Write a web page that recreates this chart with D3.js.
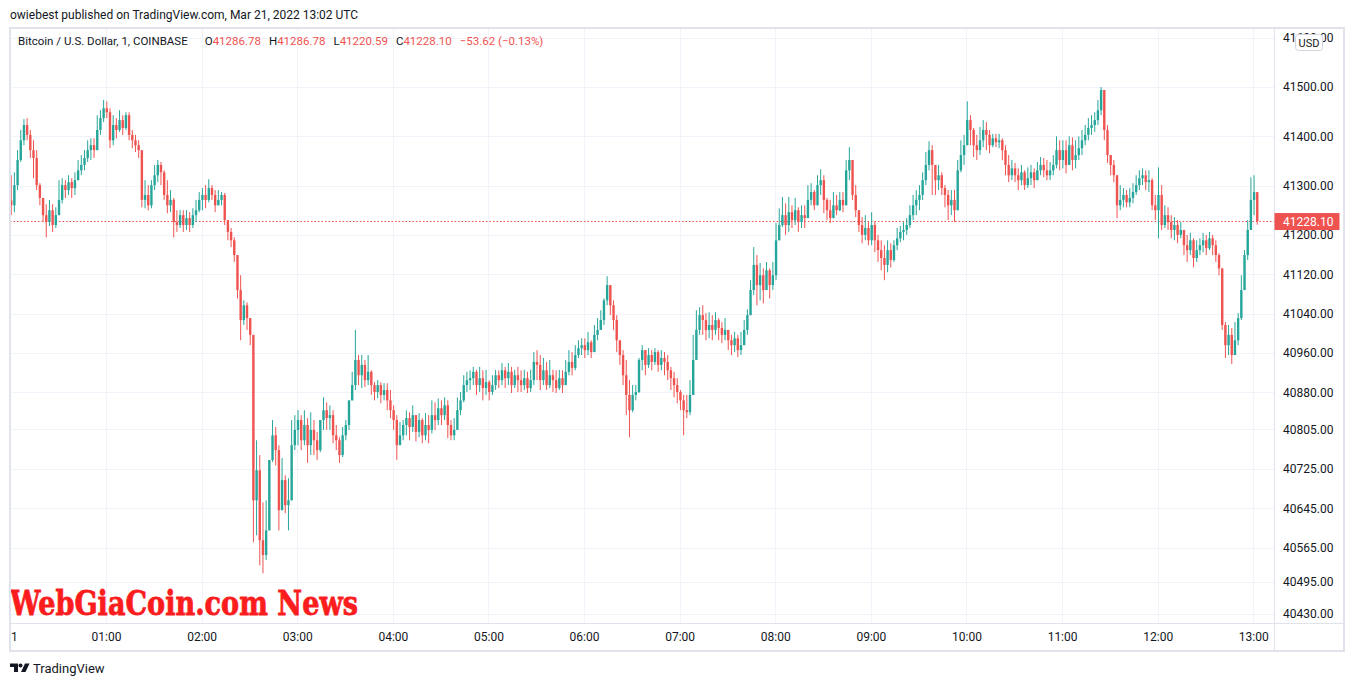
<!DOCTYPE html>
<html>
<head>
<meta charset="utf-8">
<script src="https://cdn.jsdelivr.net/npm/d3@7"></script>
<style>
    body { margin: 0; background: #fff; }
    svg { display: block; }
</style>
</head>
<body>
<div id="chart"></div>
<script>
'use strict';

// BTC/USD 1-minute chart, Coinbase, 21 Mar 2022 — candles at 2-minute steps
var startTime = Date.UTC(2022, 2, 21, 0, 0);
var candleMinutes = 2;
var firstOpen = 41270;

var closes = [
    41260, 41301, 41352, 41392, 41423,
    41403, 41372, 41356, 41301, 41275,
    41240, 41226, 41250, 41220, 41240,
    41271, 41301, 41291, 41307, 41295,
    41311, 41331, 41342, 41356, 41372,
    41382, 41372, 41413, 41437, 41457,
    41449, 41392, 41423, 41413, 41433,
    41417, 41443, 41403, 41392, 41382,
    41372, 41271, 41281, 41260, 41301,
    41321, 41342, 41327, 41281, 41260,
    41271, 41226, 41220, 41240, 41220,
    41234, 41220, 41240, 41250, 41271,
    41281, 41271, 41295, 41281, 41260,
    41271, 41281, 41230, 41206, 41189,
    41159, 41088, 41027, 41057, 41031,
    40997, 40661, 40722, 40580, 40550,
    40600, 40743, 40793, 40763, 40641,
    40702, 40651, 40661, 40773, 40804,
    40824, 40783, 40814, 40773, 40804,
    40783, 40763, 40824, 40844, 40828,
    40834, 40793, 40783, 40753, 40793,
    40814, 40864, 40895, 40946, 40915,
    40936, 40905, 40922, 40895, 40881,
    40895, 40875, 40885, 40864, 40844,
    40824, 40773, 40793, 40814, 40828,
    40810, 40834, 40800, 40824, 40793,
    40814, 40804, 40834, 40824, 40848,
    40834, 40854, 40814, 40793, 40804,
    40844, 40864, 40895, 40905, 40909,
    40922, 40895, 40909, 40889, 40901,
    40881, 40895, 40915, 40905, 40925,
    40909, 40922, 40895, 40915, 40905,
    40895, 40909, 40889, 40905, 40942,
    40936, 40905, 40925, 40895, 40915,
    40905, 40889, 40909, 40895, 40922,
    40942, 40930, 40956, 40970, 40976,
    40966, 40982, 40962, 40997, 41007,
    41027, 41067, 41098, 41057, 41027,
    40986, 40956, 40915, 40875, 40844,
    40875, 40881, 40946, 40966, 40936,
    40956, 40942, 40962, 40936, 40950,
    40942, 40925, 40909, 40895, 40881,
    40864, 40844, 40840, 40875, 40946,
    41007, 41037, 41027, 41007, 41017,
    41007, 41027, 41011, 40997, 41007,
    40986, 40976, 40990, 40966, 40976,
    41007, 41037, 41088, 41139, 41098,
    41118, 41088, 41128, 41098, 41118,
    41189, 41220, 41240, 41220, 41246,
    41230, 41250, 41226, 41240, 41234,
    41271, 41287, 41260, 41301, 41311,
    41271, 41250, 41234, 41260, 41250,
    41271, 41260, 41331, 41352, 41281,
    41250, 41220, 41200, 41214, 41189,
    41220, 41189, 41169, 41153, 41139,
    41169, 41149, 41179, 41193, 41206,
    41210, 41220, 41240, 41260, 41271,
    41281, 41311, 41342, 41372, 41342,
    41311, 41321, 41295, 41281, 41260,
    41271, 41250, 41331, 41362, 41382,
    41433, 41413, 41382, 41372, 41392,
    41413, 41403, 41382, 41396, 41388,
    41392, 41372, 41342, 41321, 41335,
    41321, 41311, 41327, 41301, 41315,
    41327, 41311, 41331, 41342, 41331,
    41321, 41331, 41342, 41372, 41352,
    41372, 41342, 41382, 41352, 41362,
    41376, 41392, 41403, 41417, 41423,
    41433, 41453, 41494, 41413, 41362,
    41342, 41321, 41260, 41271, 41281,
    41266, 41275, 41287, 41301, 41315,
    41321, 41307, 41311, 41260, 41250,
    41281, 41220, 41240, 41226, 41210,
    41220, 41200, 41210, 41179, 41169,
    41189, 41153, 41169, 41179, 41189,
    41173, 41193, 41179, 41159, 41132,
    41017, 40976, 40997, 40956, 40986,
    41031, 41088, 41159, 41210, 41271,
    41286.78, 41228.10
];

var highs = [
    41321, 41327, 41372, 41413, 41435,
    41437, 41413, 41392, 41372, 41305,
    41275, 41262, 41271, 41262, 41256,
    41311, 41315, 41311, 41321, 41315,
    41327, 41352, 41362, 41372, 41392,
    41396, 41396, 41443, 41453, 41474,
    41471, 41457, 41443, 41437, 41453,
    41443, 41449, 41449, 41413, 41403,
    41392, 41372, 41311, 41301, 41311,
    41342, 41352, 41348, 41331, 41311,
    41291, 41275, 41250, 41250, 41250,
    41250, 41246, 41254, 41271, 41287,
    41295, 41301, 41313, 41301, 41291,
    41291, 41287, 41285, 41230, 41214,
    41195, 41159, 41118, 41067, 41063,
    41031, 40990, 40783, 40753, 40657,
    40661, 40702, 40824, 40810, 40773,
    40747, 40712, 40706, 40824, 40834,
    40844, 40834, 40844, 40828, 40840,
    40824, 40800, 40824, 40870, 40860,
    40854, 40844, 40814, 40789, 40810,
    40824, 40864, 40922, 41007, 40956,
    40956, 40946, 40956, 40925, 40901,
    40905, 40901, 40899, 40899, 40885,
    40854, 40834, 40820, 40824, 40844,
    40840, 40854, 40834, 40838, 40828,
    40838, 40834, 40864, 40860, 40868,
    40864, 40870, 40864, 40824, 40828,
    40870, 40881, 40915, 40922, 40925,
    40932, 40926, 40932, 40925, 40926,
    40905, 40915, 40926, 40925, 40940,
    40932, 40940, 40932, 40926, 40932,
    40925, 40926, 40922, 40926, 40962,
    40966, 40956, 40950, 40942, 40946,
    40926, 40925, 40926, 40925, 40946,
    40966, 40962, 40976, 40986, 40990,
    40990, 41003, 40986, 41017, 41031,
    41047, 41071, 41116, 41098, 41067,
    41037, 40986, 40966, 40946, 40905,
    40895, 40895, 40950, 40976, 40966,
    40970, 40966, 40970, 40966, 40966,
    40962, 40956, 40932, 40922, 40909,
    40885, 40875, 40875, 40905, 40997,
    41047, 41053, 41057, 41041, 41043,
    41037, 41043, 41031, 41023, 41031,
    41007, 40997, 41003, 40997, 41003,
    41027, 41049, 41108, 41175, 41159,
    41143, 41132, 41145, 41132, 41145,
    41224, 41254, 41277, 41264, 41277,
    41260, 41275, 41256, 41260, 41260,
    41301, 41305, 41291, 41321, 41333,
    41321, 41275, 41271, 41287, 41281,
    41287, 41287, 41352, 41378, 41352,
    41301, 41250, 41236, 41240, 41226,
    41246, 41226, 41200, 41189, 41179,
    41189, 41183, 41189, 41214, 41218,
    41226, 41234, 41260, 41281, 41291,
    41301, 41327, 41368, 41390, 41382,
    41342, 41342, 41327, 41301, 41291,
    41291, 41291, 41352, 41392, 41403,
    41471, 41443, 41417, 41403, 41419,
    41433, 41429, 41413, 41405, 41405,
    41405, 41396, 41382, 41362, 41352,
    41346, 41335, 41342, 41331, 41337,
    41342, 41335, 41348, 41358, 41356,
    41352, 41348, 41362, 41400, 41392,
    41392, 41392, 41400, 41398, 41392,
    41400, 41413, 41423, 41437, 41443,
    41449, 41474, 41500, 41494, 41423,
    41362, 41352, 41321, 41301, 41295,
    41291, 41295, 41305, 41321, 41331,
    41335, 41331, 41331, 41315, 41281,
    41337, 41301, 41260, 41256, 41240,
    41236, 41230, 41226, 41210, 41200,
    41204, 41193, 41189, 41193, 41204,
    41200, 41206, 41200, 41189, 41163,
    41132, 41023, 41017, 41011, 41023,
    41041, 41118, 41169, 41230, 41317,
    41321, 41286.78
];

var lows = [
    41240, 41246, 41291, 41348, 41382,
    41392, 41356, 41315, 41291, 41260,
    41226, 41195, 41218, 41206, 41214,
    41240, 41264, 41275, 41281, 41275,
    41281, 41311, 41321, 41331, 41348,
    41352, 41356, 41372, 41403, 41429,
    41437, 41376, 41382, 41396, 41409,
    41403, 41413, 41392, 41376, 41368,
    41356, 41256, 41254, 41250, 41254,
    41291, 41307, 41301, 41271, 41244,
    41246, 41195, 41206, 41214, 41206,
    41210, 41206, 41214, 41226, 41246,
    41250, 41254, 41266, 41271, 41246,
    41260, 41260, 41220, 41189, 41175,
    41145, 41071, 40986, 41017, 41007,
    40976, 40576, 40590, 40529, 40513,
    40540, 40600, 40739, 40732, 40600,
    40641, 40635, 40600, 40661, 40763,
    40773, 40763, 40773, 40737, 40753,
    40753, 40743, 40759, 40804, 40804,
    40804, 40777, 40763, 40737, 40749,
    40783, 40804, 40875, 40885, 40895,
    40889, 40891, 40895, 40875, 40864,
    40868, 40858, 40864, 40844, 40828,
    40804, 40743, 40781, 40783, 40793,
    40783, 40800, 40781, 40789, 40777,
    40783, 40777, 40797, 40804, 40814,
    40814, 40824, 40787, 40783, 40783,
    40814, 40834, 40860, 40881, 40885,
    40895, 40875, 40881, 40864, 40875,
    40864, 40875, 40885, 40889, 40895,
    40889, 40895, 40879, 40889, 40881,
    40881, 40885, 40879, 40881, 40895,
    40905, 40885, 40895, 40885, 40889,
    40881, 40879, 40885, 40879, 40895,
    40915, 40915, 40925, 40950, 40956,
    40950, 40956, 40950, 40970, 40986,
    41007, 41017, 41057, 41037, 41007,
    40962, 40936, 40895, 40834, 40789,
    40840, 40864, 40879, 40925, 40915,
    40930, 40925, 40936, 40922, 40925,
    40915, 40905, 40885, 40870, 40858,
    40844, 40793, 40828, 40834, 40895,
    40986, 40997, 40997, 40986, 40990,
    40986, 40997, 40986, 40980, 40986,
    40966, 40956, 40962, 40952, 40956,
    40986, 40997, 41037, 41078, 41057,
    41067, 41061, 41088, 41071, 41088,
    41108, 41199, 41216, 41200, 41206,
    41214, 41220, 41206, 41214, 41214,
    41250, 41260, 41250, 41260, 41281,
    41244, 41230, 41224, 41234, 41240,
    41248, 41246, 41260, 41311, 41271,
    41236, 41206, 41183, 41189, 41179,
    41179, 41165, 41145, 41128, 41108,
    41124, 41134, 41145, 41169, 41185,
    41189, 41200, 41214, 41230, 41240,
    41250, 41271, 41301, 41331, 41281,
    41281, 41291, 41281, 41256, 41230,
    41240, 41226, 41250, 41327, 41342,
    41382, 41382, 41358, 41352, 41362,
    41378, 41372, 41366, 41378, 41378,
    41376, 41352, 41321, 41307, 41311,
    41307, 41291, 41301, 41291, 41295,
    41301, 41295, 41311, 41321, 41317,
    41311, 41311, 41321, 41335, 41331,
    41335, 41325, 41342, 41331, 41335,
    41352, 41362, 41382, 41392, 41403,
    41409, 41423, 41443, 41392, 41346,
    41321, 41307, 41234, 41250, 41256,
    41256, 41256, 41264, 41281, 41291,
    41301, 41291, 41287, 41250, 41230,
    41193, 41210, 41214, 41210, 41193,
    41189, 41183, 41193, 41159, 41145,
    41159, 41134, 41145, 41159, 41165,
    41159, 41169, 41159, 41145, 41118,
    41007, 40950, 40956, 40938, 40966,
    40976, 41027, 41088, 41149, 41210,
    41240, 41220.59
];

var priceTicks = [41600, 41500, 41400, 41300, 41200, 41120, 41040, 40960, 40880, 40805, 40725, 40645, 40565, 40495, 40430];
var hourTicks = [0, 1, 2, 3, 4, 5, 6, 7, 8, 9, 10, 11, 12, 13];
var lastPrice = 41228.10;
var headerText = 'owiebest published on TradingView.com, Mar 21, 2022 13:02 UTC';
var symbolText = 'Bitcoin / U.S. Dollar, 1, COINBASE';
var ohlcLabels = ['O', 'H', 'L', 'C'];
var ohlcValues = ['41286.78', '41286.78', '41220.59', '41228.10'];
var changeText = '\u221253.62 (\u22120.13%)';
var watermarkText = 'WebGiaCoin.com News';

var moduleBtcChart = (function() {

    var width = 1354,
        height = 686;

    var plot = { left: 10, right: 1274, top: 28, bottom: 623 };

    var uiFont = 'Roboto, "Liberation Sans", sans-serif';

    var upColor = '#26a69a',
        downColor = '#ef5350',
        gridColor = '#f0f3fa',
        borderColor = '#e0e3eb',
        textColor = '#131722';

    var init = function() {
        var svg = d3.select('#chart').append('svg')
            .attr('width', width)
            .attr('height', height)
            .style('font-family', uiFont);

        var minute = 60000;
        var x = d3.scaleUtc()
            .domain([new Date(startTime - 0.25 * minute), new Date(startTime + 793 * minute)])
            .range([plot.left, plot.right]);

        var y = d3.scaleLinear()
            .domain([40412, 41620])
            .range([plot.bottom, plot.top]);

        var candles = closes.map(function(c, i) {
            var open = i ? closes[i - 1] : firstOpen;
            return {
                time: new Date(startTime + (i * candleMinutes + 0.5) * minute),
                open: open,
                high: Math.max(highs[i], open, c),
                low: Math.min(lows[i], open, c),
                close: c
            };
        });

        var defs = svg.append('defs');
        defs.append('clipPath').attr('id', 'plot-clip')
            .append('rect')
            .attr('x', plot.left).attr('y', plot.top)
            .attr('width', plot.right - plot.left).attr('height', plot.bottom - plot.top);
        // the time axis group is translated, so this rect is in its local coordinates
        defs.append('clipPath').attr('id', 'time-clip')
            .append('rect')
            .attr('x', plot.left + 1).attr('y', 0)
            .attr('width', plot.right - plot.left).attr('height', 28);

        // header
        svg.append('text')
            .attr('x', 10).attr('y', 19)
            .attr('font-size', 12)
            .attr('fill', textColor)
            .text(headerText);

        // grid
        var hours = hourTicks.map(function(h) { return new Date(startTime + h * 60 * minute); });
        svg.append('g').selectAll('line')
            .data(hours)
            .enter().append('line')
            .attr('x1', function(d) { return Math.round(x(d)) + 0.5; })
            .attr('x2', function(d) { return Math.round(x(d)) + 0.5; })
            .attr('y1', plot.top).attr('y2', plot.bottom)
            .attr('stroke', gridColor);
        svg.append('g').selectAll('line')
            .data(priceTicks)
            .enter().append('line')
            .attr('x1', plot.left).attr('x2', plot.right)
            .attr('y1', function(d) { return Math.round(y(d)) + 0.5; })
            .attr('y2', function(d) { return Math.round(y(d)) + 0.5; })
            .attr('stroke', gridColor);

        // last price line
        svg.append('line')
            .attr('x1', plot.left).attr('x2', plot.right)
            .attr('y1', Math.round(y(lastPrice)) + 0.5).attr('y2', Math.round(y(lastPrice)) + 0.5)
            .attr('stroke', downColor)
            .attr('stroke-width', 1.2)
            .attr('stroke-dasharray', '1.5,2');

        // candles
        var g = svg.append('g').attr('clip-path', 'url(#plot-clip)');
        var candle = g.selectAll('g.candle')
            .data(candles)
            .enter().append('g')
            .attr('class', 'candle');

        candle.append('line')
            .attr('x1', function(d) { return x(d.time); })
            .attr('x2', function(d) { return x(d.time); })
            .attr('y1', function(d) { return y(d.high); })
            .attr('y2', function(d) { return y(d.low); })
            .attr('stroke', function(d) { return d.close >= d.open ? upColor : downColor; })
            .attr('stroke-width', 1);

        candle.append('rect')
            .attr('x', function(d) { return x(d.time) - 1.2; })
            .attr('width', 2.4)
            .attr('y', function(d) { return y(Math.max(d.open, d.close)); })
            .attr('height', function(d) { return Math.max(1, Math.abs(y(d.open) - y(d.close))); })
            .attr('fill', function(d) { return d.close >= d.open ? upColor : downColor; });

        // legend
        var legend = svg.append('text')
            .attr('x', 18).attr('y', 45)
            .attr('font-size', 11.5)
            .attr('fill', textColor);
        legend.append('tspan').text(symbolText);
        ohlcLabels.forEach(function(l, i) {
            legend.append('tspan').attr('dx', i ? 8 : 17).attr('fill', textColor).text(l);
            legend.append('tspan').attr('fill', downColor).text(ohlcValues[i]);
        });
        legend.append('tspan').attr('dx', 8).attr('fill', downColor).text(changeText);

        // watermark
        svg.append('text')
            .attr('x', 10).attr('y', 615)
            .style('font-family', '"DejaVu Serif", serif')
            .style('font-weight', 'bold')
            .attr('font-size', 33)
            .attr('textLength', 348)
            .attr('lengthAdjust', 'spacingAndGlyphs')
            .attr('fill', '#fb1d1d')
            .attr('stroke', '#fb1d1d')
            .attr('stroke-width', 0.8)
            .text(watermarkText);

        // price axis
        var yAxis = svg.append('g')
            .attr('transform', 'translate(' + plot.right + ',0)')
            .call(d3.axisRight(y).tickValues(priceTicks).tickFormat(d3.format('.2f')).tickSize(0).tickPadding(9));
        yAxis.select('.domain').remove();
        yAxis.selectAll('text')
            .style('font-family', uiFont)
            .attr('font-size', 12)
            .attr('fill', textColor);

        // time axis
        var xAxis = svg.append('g')
            .attr('clip-path', 'url(#time-clip)')
            .attr('transform', 'translate(0,' + plot.bottom + ')')
            .call(d3.axisBottom(x).tickValues(hours).tickSize(0).tickPadding(9)
                .tickFormat(function(d) { return d.getUTCHours() === 0 ? '21' : d3.utcFormat('%H:%M')(d); }));
        xAxis.select('.domain').remove();
        xAxis.selectAll('text')
            .style('font-family', uiFont)
            .attr('font-size', 12)
            .attr('fill', textColor);

        // borders
        svg.append('line')
            .attr('x1', plot.left).attr('x2', 1344)
            .attr('y1', plot.bottom + 0.5).attr('y2', plot.bottom + 0.5)
            .attr('stroke', borderColor);
        svg.append('line')
            .attr('x1', plot.right + 0.5).attr('x2', plot.right + 0.5)
            .attr('y1', plot.top).attr('y2', 651)
            .attr('stroke', borderColor);
        svg.append('rect')
            .attr('x', 10).attr('y', 28)
            .attr('width', 1334).attr('height', 623)
            .attr('fill', 'none')
            .attr('stroke', borderColor)
            .attr('stroke-width', 2);

        // last price label
        var yl = y(lastPrice);
        svg.append('rect')
            .attr('x', plot.right + 0.5).attr('y', yl - 8)
            .attr('width', 65).attr('height', 17)
            .attr('fill', downColor);
        svg.append('text')
            .attr('x', plot.right + 9).attr('y', yl + 4.5)
            .attr('font-size', 12)
            .attr('fill', '#fff')
            .text(d3.format('.2f')(lastPrice));

        // currency badge, drawn over the clipped top tick label as in TradingView
        svg.append('rect')
            .attr('x', 1295.5).attr('y', 34.5)
            .attr('width', 27).attr('height', 16)
            .attr('rx', 3)
            .attr('fill', '#fff')
            .attr('stroke', '#d1d4dc');
        svg.append('text')
            .attr('x', 1309).attr('y', 46.5)
            .attr('text-anchor', 'middle')
            .attr('font-size', 11)
            .attr('fill', textColor)
            .text('USD');

        // footer
        var logo = svg.append('g').attr('fill', textColor);
        logo.append('path').attr('d', 'M10,663.5h8v8.5h-4v-5h-4z');
        logo.append('circle').attr('cx', 20.5).attr('cy', 665.5).attr('r', 2);
        logo.append('path').attr('d', 'M25,663.5h4.5l-4,8.5h-4.5z');
        svg.append('text')
            .attr('x', 33).attr('y', 672.5)
            .attr('font-size', 13)
            .attr('fill', textColor)
            .text('TradingView');
    };

    return {
        init: init
    };
})();

moduleBtcChart.init();
</script>
</body>
</html>
